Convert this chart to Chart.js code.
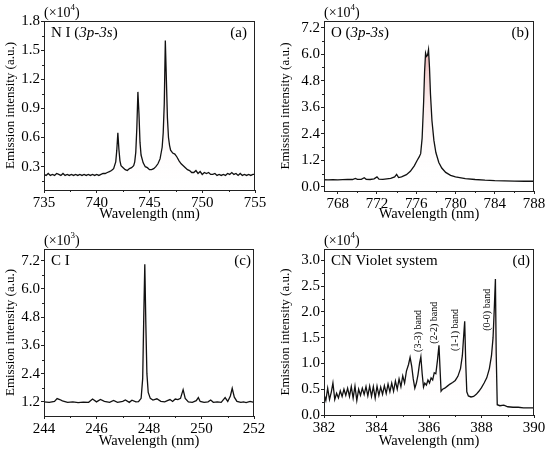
<!DOCTYPE html>
<html>
<head>
<meta charset="utf-8">
<script src="https://cdn.jsdelivr.net/npm/chart.js@4.4.1/dist/chart.umd.min.js"></script>
<style>
  html, body { margin: 0; padding: 0; background: #fff; }
  #wrap { position: relative; width: 550px; height: 455px; overflow: hidden; }
  #wrap canvas { position: absolute; }
</style>
</head>
<body>
<div id="wrap">
  <canvas id="pa" width="275" height="228" style="left:0;top:0"></canvas>
  <canvas id="pb" width="275" height="228" style="left:275px;top:0"></canvas>
  <canvas id="pc" width="275" height="227" style="left:0;top:228px"></canvas>
  <canvas id="pd" width="275" height="227" style="left:275px;top:228px"></canvas>
</div>
<script>
// (a) N I 3p-3s, intensity in 1e4 a.u.
const aWave = [735.0,735.2,735.4,735.6,735.8,736.0,736.2,736.4,736.6,736.8,737.0,737.2,737.4,737.6,737.8,738.0,738.2,738.4,738.6,738.8,739.0,739.2,739.4,739.6,739.8,740.0,740.2,740.4,740.6,740.8,741.0,741.2,741.4,741.6,741.8,741.9,742.0,742.1,742.2,742.3,742.5,742.7,742.9,743.1,743.3,743.5,743.6,743.7,743.8,743.9,744.0,744.1,744.2,744.4,744.6,744.8,745.0,745.2,745.4,745.6,745.8,746.0,746.2,746.3,746.4,746.5,746.6,746.7,746.8,746.9,747.0,747.2,747.4,747.6,747.8,748.0,748.2,748.4,748.6,748.8,749.0,749.2,749.4,749.6,749.8,750.0,750.2,750.4,750.6,750.8,751.0,751.2,751.4,751.6,751.8,752.0,752.2,752.4,752.6,752.8,753.0,753.2,753.4,753.6,753.8,754.0,754.2,754.4,754.6,754.8,755.0];
const aInt = [0.22,0.21,0.23,0.21,0.22,0.21,0.23,0.22,0.21,0.23,0.21,0.22,0.21,0.22,0.21,0.22,0.21,0.22,0.21,0.22,0.21,0.22,0.21,0.22,0.21,0.22,0.21,0.22,0.23,0.23,0.24,0.25,0.26,0.28,0.35,0.47,0.65,0.48,0.36,0.31,0.29,0.27,0.26,0.28,0.29,0.31,0.35,0.45,0.70,1.07,0.85,0.55,0.42,0.34,0.30,0.29,0.27,0.27,0.28,0.30,0.33,0.38,0.50,0.65,0.95,1.60,1.20,0.80,0.60,0.52,0.47,0.44,0.43,0.40,0.36,0.33,0.31,0.29,0.27,0.26,0.24,0.24,0.26,0.23,0.25,0.22,0.24,0.23,0.24,0.22,0.22,0.23,0.21,0.22,0.21,0.22,0.21,0.23,0.22,0.24,0.22,0.23,0.21,0.23,0.21,0.22,0.21,0.22,0.21,0.22,0.22];
const aXTicks = [735, 740, 745, 750, 755];
const aYTicks = [0.3, 0.6, 0.9, 1.2, 1.5, 1.8];
const aXMinor = [737.5, 742.5, 747.5, 752.5];
const aYMinor = [0.15, 0.45, 0.75, 1.05, 1.35, 1.65];

// (b) O 3p-3s, intensity in 1e4 a.u.
const bWave = [766.6,767.0,767.5,768.0,768.5,769.0,769.5,769.8,770.0,770.4,770.7,770.9,771.3,771.7,772.0,772.2,772.6,773.0,773.4,773.8,774.0,774.2,774.5,775.0,775.4,775.8,776.1,776.3,776.45,776.6,776.75,776.85,776.95,777.05,777.15,777.25,777.35,777.45,777.6,777.8,778.0,778.3,778.6,779.0,779.5,780.0,781.0,782.0,783.0,784.0,785.0,786.0,787.0,788.0];
const bInt = [0.32,0.31,0.32,0.31,0.32,0.33,0.33,0.38,0.34,0.34,0.41,0.34,0.33,0.36,0.45,0.35,0.34,0.36,0.38,0.45,0.56,0.42,0.45,0.55,0.70,0.95,1.20,1.35,1.50,2.20,3.80,5.20,6.05,5.90,5.95,6.20,5.40,4.20,3.00,2.10,1.55,1.10,0.85,0.65,0.52,0.45,0.37,0.33,0.30,0.28,0.27,0.26,0.25,0.25];
const bXTicks = [768, 772, 776, 780, 784, 788];
const bYTicks = [0.0, 1.2, 2.4, 3.6, 4.8, 6.0, 7.2];
const bXMinor = [770, 774, 778, 782, 786];
const bYMinor = [0.6, 1.8, 3.0, 4.2, 5.4, 6.6];

// (c) C I, intensity in 1e3 a.u.
const cWave = [244.0,244.2,244.4,244.5,244.6,244.7,244.9,245.1,245.3,245.5,245.7,245.85,246.0,246.15,246.3,246.5,246.65,246.8,247.0,247.1,247.25,247.35,247.5,247.6,247.7,247.76,247.8,247.84,247.88,247.92,247.97,248.05,248.15,248.3,248.45,248.6,248.7,248.8,248.9,249.0,249.1,249.2,249.3,249.38,249.5,249.65,249.8,249.88,249.95,250.1,250.25,250.35,250.45,250.6,250.75,250.9,251.0,251.1,251.17,251.25,251.35,251.5,251.6,251.7,251.85,252.0];
const cInt = [1.20,1.18,1.22,1.34,1.30,1.24,1.18,1.20,1.17,1.19,1.18,1.32,1.20,1.30,1.22,1.18,1.26,1.18,1.22,1.28,1.18,1.27,1.20,1.21,1.35,2.20,4.80,7.05,4.50,2.40,1.60,1.35,1.28,1.33,1.22,1.20,1.25,1.30,1.22,1.32,1.30,1.35,1.72,1.35,1.20,1.18,1.25,1.38,1.22,1.18,1.20,1.28,1.18,1.20,1.18,1.38,1.22,1.45,1.78,1.40,1.22,1.18,1.20,1.17,1.22,1.18];
const cXTicks = [244, 246, 248, 250, 252];
const cYTicks = [1.2, 2.4, 3.6, 4.8, 6.0, 7.2];
const cXMinor = [245, 247, 249, 251];
const cYMinor = [1.8, 3.0, 4.2, 5.4, 6.6];

// (d) CN violet system, intensity in 1e4 a.u.
const dWave = [382.00,382.07,382.14,382.21,382.28,382.34,382.41,382.48,382.55,382.62,382.69,382.76,382.83,382.90,382.97,383.04,383.11,383.18,383.25,383.32,383.39,383.46,383.53,383.60,383.67,383.74,383.81,383.88,383.95,384.02,384.09,384.16,384.23,384.30,384.37,384.44,384.51,384.58,384.65,384.72,384.79,384.86,384.93,385.00,385.07,385.14,385.22,385.28,385.34,385.40,385.46,385.52,385.58,385.64,385.69,385.74,385.79,385.84,385.90,385.96,386.02,386.08,386.14,386.20,386.26,386.32,386.38,386.42,386.46,386.52,386.60,386.70,386.80,386.90,387.00,387.10,387.20,387.27,387.33,387.36,387.40,387.44,387.50,387.60,387.70,387.80,387.90,388.00,388.10,388.20,388.30,388.38,388.44,388.49,388.53,388.56,388.60,388.70,388.85,389.00,389.20,389.40,389.60,389.80,390.00];
const dInt = [0.40,0.28,0.52,0.30,0.45,0.62,0.30,0.42,0.33,0.47,0.36,0.50,0.38,0.52,0.36,0.55,0.33,0.56,0.28,0.50,0.38,0.52,0.40,0.55,0.37,0.56,0.36,0.55,0.33,0.56,0.38,0.54,0.40,0.57,0.42,0.60,0.45,0.62,0.46,0.66,0.50,0.70,0.55,0.76,0.62,0.85,0.98,1.12,0.95,0.70,0.52,0.62,0.78,1.00,1.13,0.80,0.54,0.62,0.58,0.68,0.62,0.72,0.68,0.82,0.80,1.05,1.35,0.90,0.46,0.50,0.52,0.56,0.60,0.63,0.67,0.75,0.90,1.15,1.60,1.82,1.00,0.45,0.37,0.35,0.36,0.40,0.46,0.53,0.62,0.72,0.90,1.15,1.50,2.10,2.64,1.20,0.20,0.18,0.19,0.16,0.15,0.15,0.14,0.14,0.14];
const dXTicks = [382, 384, 386, 388, 390];
const dYTicks = [0.0, 0.5, 1.0, 1.5, 2.0, 2.5, 3.0];
const dXMinor = [383, 385, 387, 389];
const dYMinor = [0.25, 0.75, 1.25, 1.75, 2.25, 2.75, 3.25];
const bandNames = ['(3-3) band', '(2-2) band', '(1-1) band', '(0-0) band'];
const bandWave = [385.61, 386.22, 387.02, 388.24];
const bandLevel = [1.63, 1.79, 1.65, 2.04];

const serif = '"Liberation Serif", "Times New Roman", serif';

function drawRich(ctx, parts, x, y, size) {
  let cx = x;
  parts.forEach(([t, it]) => {
    ctx.font = (it ? 'italic ' : '') + size + 'px ' + serif;
    ctx.fillText(t, cx, y);
    cx += ctx.measureText(t).width;
  });
}

const decor = {
  id: 'decor',
  afterDraw(chart, args, o) {
    const { ctx, chartArea: a, scales: { x, y } } = chart;
    ctx.save();
    ctx.strokeStyle = '#222';
    ctx.lineWidth = 1;
    ctx.strokeRect(a.left + 0.5, a.top + 0.5, a.right - a.left - 1, a.bottom - a.top);
    ctx.beginPath();
    o.xMinor.forEach(v => { const p = Math.round(x.getPixelForValue(v)) + 0.5; ctx.moveTo(p, a.bottom); ctx.lineTo(p, a.bottom + 2); });
    o.yMinor.forEach(v => {
      if (v > y.max) return;
      const p = Math.round(y.getPixelForValue(v)) + 0.5; ctx.moveTo(a.left, p); ctx.lineTo(a.left - 2, p);
    });
    ctx.stroke();
    ctx.fillStyle = '#000';
    ctx.textBaseline = 'middle';
    ctx.textAlign = 'left';
    drawRich(ctx, o.label, a.left + 7, a.top + 12, 15);
    ctx.textAlign = 'right';
    ctx.font = '15px ' + serif;
    ctx.fillText(o.letter, a.right + o.letterDx, a.top + 12);
    // exponent above the axis
    ctx.textAlign = 'left';
    ctx.font = '14px ' + serif;
    let ex = a.left, ey = a.top - 8;
    ctx.fillText('(\u00d710', ex, ey);
    ex += ctx.measureText('(\u00d710').width;
    ctx.font = '9px ' + serif;
    ctx.fillText(o.exp, ex, ey - 5);
    ex += ctx.measureText(o.exp).width;
    ctx.font = '14px ' + serif;
    ctx.fillText(')', ex, ey);
    if (o.bands) {
      ctx.font = '10px ' + serif;
      ctx.textAlign = 'center';
      o.bands.names.forEach((n, i) => {
        ctx.save();
        ctx.translate(x.getPixelForValue(o.bands.wave[i]), y.getPixelForValue(o.bands.level[i]));
        ctx.rotate(-Math.PI / 2);
        ctx.fillText(n, 0, 0);
        ctx.restore();
      });
    }
    ctx.restore();
  }
};

function peakFill(context) {
  const { chart } = context;
  const { ctx, chartArea } = chart;
  if (!chartArea) return 'rgba(0,0,0,0)';
  const g = ctx.createLinearGradient(0, chartArea.top, 0, chartArea.bottom);
  g.addColorStop(0, 'rgba(210,70,70,0.65)');
  g.addColorStop(0.45, 'rgba(235,160,160,0.22)');
  g.addColorStop(1, 'rgba(255,255,255,0)');
  return g;
}

function makePanel(id, p) {
  const tickFont = { family: serif, size: 15 };
  new Chart(document.getElementById(id), {
    type: 'line',
    data: {
      datasets: [{
        data: p.wave.map((w, i) => ({ x: w, y: p.inten[i] })),
        borderColor: '#111',
        borderWidth: 1.3,
        pointRadius: 0,
        tension: 0,
        fill: 'start',
        backgroundColor: peakFill
      }]
    },
    options: {
      responsive: false,
      animation: false,
      layout: { padding: { left: 0, right: p.padRight, top: 21, bottom: 0 } },
      plugins: { legend: { display: false }, tooltip: { enabled: false }, decor: p.decor },
      scales: {
        x: {
          type: 'linear', min: p.xMin, max: p.xMax,
          afterBuildTicks: s => { s.ticks = p.xTicks.map(v => ({ value: v })); },
          afterFit: s => { s.height = p.xHeight; },
          grid: { drawOnChartArea: false, tickLength: 3, color: '#222' },
          border: { color: '#222' },
          ticks: { font: tickFont, color: '#000', padding: 1, maxRotation: 0, callback: v => String(v) },
          title: { display: true, text: 'Wavelength (nm)', font: { family: serif, size: 14.5 }, color: '#000', padding: { top: 0, bottom: 5 } }
        },
        y: {
          min: p.yMin, max: p.yMax,
          afterBuildTicks: s => { s.ticks = p.yTicks.map(v => ({ value: v })); },
          afterFit: s => { s.width = p.yWidth; },
          grid: { drawOnChartArea: false, tickLength: 3, color: '#222' },
          border: { color: '#222' },
          ticks: { font: tickFont, color: '#000', padding: 1, callback: v => v.toFixed(1) },
          title: { display: true, text: 'Emission intensity (a.u.)', font: { family: serif, size: 13 }, color: '#000', padding: { top: 3, bottom: 0 } }
        }
      }
    },
    plugins: [decor]
  });
}

makePanel('pa', {
  wave: aWave, inten: aInt, xMin: 735, xMax: 755, yMin: 0.06, yMax: 1.8,
  xTicks: aXTicks, yTicks: aYTicks, padRight: 20, xHeight: 38, yWidth: 44,
  decor: { xMinor: aXMinor, yMinor: aYMinor, label: [['N I (', 0], ['3p', 1], ['-', 0], ['3s', 1], [')', 0]], letter: '(a)', letterDx: -8, exp: '4' }
});
makePanel('pb', {
  wave: bWave, inten: bInt, xMin: 766.6, xMax: 788, yMin: -0.19, yMax: 7.5,
  xTicks: bXTicks, yTicks: bYTicks, padRight: 16, xHeight: 37, yWidth: 49,
  decor: { xMinor: bXMinor, yMinor: bYMinor, label: [['O (', 0], ['3p', 1], ['-', 0], ['3s', 1], [')', 0]], letter: '(b)', letterDx: -5, exp: '4' }
});
makePanel('pc', {
  wave: cWave, inten: cInt, xMin: 244, xMax: 252, yMin: 0.6, yMax: 7.7,
  xTicks: cXTicks, yTicks: cYTicks, padRight: 21, xHeight: 39, yWidth: 44,
  decor: { xMinor: cXMinor, yMinor: cYMinor, label: [['C I', 0]], letter: '(c)', letterDx: -3, exp: '3' }
});
makePanel('pd', {
  wave: dWave, inten: dInt, xMin: 382, xMax: 390, yMin: 0, yMax: 3.22,
  xTicks: dXTicks, yTicks: dYTicks, padRight: 16, xHeight: 40, yWidth: 49,
  decor: { xMinor: dXMinor, yMinor: dYMinor, label: [['CN Violet system', 0]], letter: '(d)', letterDx: -4, exp: '4',
           bands: { names: bandNames, wave: bandWave, level: bandLevel } }
});
</script>
</body>
</html>
